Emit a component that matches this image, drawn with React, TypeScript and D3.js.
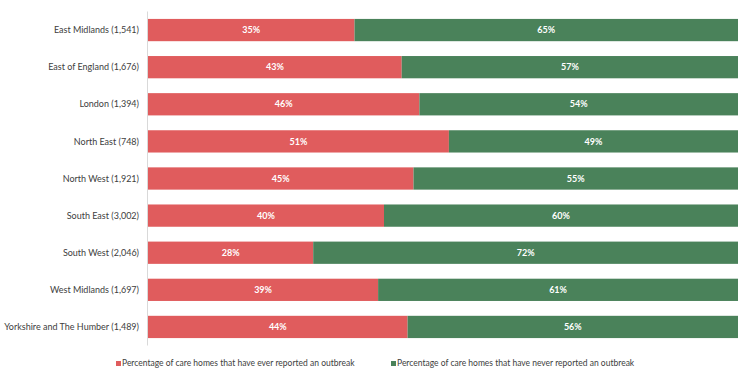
import React from "react";
import * as d3 from "d3";

const categories = [
  "East Midlands (1,541)",
  "East of England (1,676)",
  "London (1,394)",
  "North East (748)",
  "North West (1,921)",
  "South East (3,002)",
  "South West (2,046)",
  "West Midlands (1,697)",
  "Yorkshire and The Humber (1,489)",
];
const everReported = [35, 43, 46, 51, 45, 40, 28, 39, 44];
const neverReported = [65, 57, 54, 49, 55, 60, 72, 61, 56];
const seriesNames = [
  "Percentage of care homes that have ever reported an outbreak",
  "Percentage of care homes that have never reported an outbreak",
];
const colors = ["#E05C5D", "#4A825A"];

const W = 750;
const H = 381;
const left = 148;
const right = 738;
const top = 11.5;
const bottom = 345.5;
const font = "Lato, 'Open Sans', sans-serif";

export default function App() {
  const x = d3.scaleLinear().domain([0, 100]).range([left, right]);
  const y = d3.scaleBand().domain(categories).range([top, bottom]).paddingInner(0.4).paddingOuter(0.2);
  const rows = categories.map((c, i) => ({ c, a: everReported[i], b: neverReported[i] }));
  return (
    <svg width={W} height={H} style={{ position: "absolute", left: 0, top: 0, background: "#fff" }}>
      {rows.map((r) => {
        const y0 = y(r.c)!;
        const bh = y.bandwidth();
        const cy = y0 + bh / 2;
        return (
          <g key={r.c}>
            <rect x={x(0)} y={y0} width={x(r.a) - x(0)} height={bh} fill={colors[0]} />
            <rect x={x(r.a)} y={y0} width={x(r.a + r.b) - x(r.a)} height={bh} fill={colors[1]} />
            <text x={(x(0) + x(r.a)) / 2} y={cy} dy="0.35em" textAnchor="middle" fill="#fff" fontSize={9} fontWeight="bold" fontFamily={font}>
              {r.a}%
            </text>
            <text x={(x(r.a) + x(r.a + r.b)) / 2} y={cy} dy="0.35em" textAnchor="middle" fill="#fff" fontSize={9} fontWeight="bold" fontFamily={font}>
              {r.b}%
            </text>
            <text x={left - 9} y={cy} dy="0.35em" textAnchor="end" fill="#404040" fontSize={9} fontFamily={font}>
              {r.c}
            </text>
          </g>
        );
      })}
      <line x1={left - 0.5} x2={left - 0.5} y1={top} y2={bottom} stroke="#d9d9d9" strokeWidth={1} />
      <g fontFamily={font} fontSize={8.5} fill="#404040">
        <rect x={116} y={361} width={5} height={5} fill={colors[0]} />
        <text x={122} y={363.5} dy="0.35em">{seriesNames[0]}</text>
        <rect x={391} y={361} width={5} height={5} fill={colors[1]} />
        <text x={397} y={363.5} dy="0.35em">{seriesNames[1]}</text>
      </g>
    </svg>
  );
}
